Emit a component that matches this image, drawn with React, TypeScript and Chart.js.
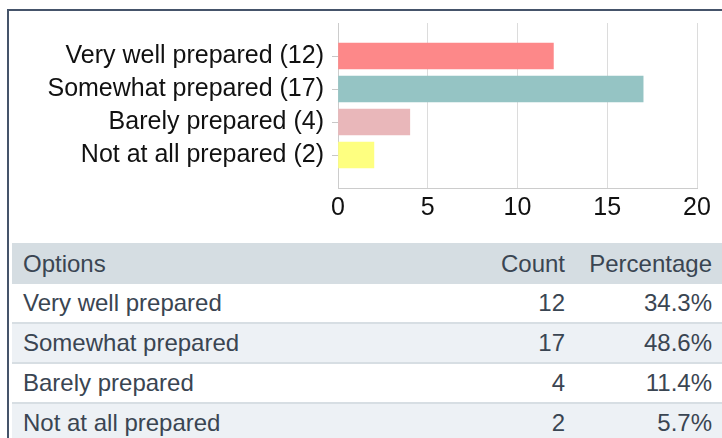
import React, { useEffect, useRef } from "react";
import { Chart, registerables } from "chart.js";

Chart.register(...registerables);

const categories = ["Very well prepared", "Somewhat prepared", "Barely prepared", "Not at all prepared"];
const counts = [12, 17, 4, 2];
const percentages = ["34.3%", "48.6%", "11.4%", "5.7%"];
const barColors = ["#fd8889", "#95c4c4", "#e9b7ba", "#feff80"];
const xTicks = [0, 5, 10, 15, 20];

const FONT = "'Liberation Sans', Arial, Helvetica, sans-serif";

export default function App() {
  const ref = useRef<HTMLCanvasElement | null>(null);

  useEffect(() => {
    if (!ref.current) return;
    const labels = categories.map((c, i) => `${c} (${counts[i]})`);
    const chart = new Chart(ref.current, {
      type: "bar",
      data: {
        datasets: [
          {
            data: counts.map((v, i) => ({ x: v, y: i })) as any,
            backgroundColor: barColors,
            borderWidth: 0,
            barThickness: 26,
          },
        ],
      },
      options: {
        indexAxis: "y",
        responsive: false,
        animation: false,
        events: [],
        layout: { padding: { top: 22, right: 25, bottom: 0, left: 0 } },
        plugins: { legend: { display: false }, tooltip: { enabled: false } },
        scales: {
          x: {
            type: "linear",
            offset: false,
            min: xTicks[0],
            max: xTicks[xTicks.length - 1],
            afterBuildTicks: (s: any) => {
              s.ticks = xTicks.map((v) => ({ value: v }));
            },
            afterFit: (s: any) => {
              s.height = 42;
            },
            grid: { color: "#dcdcdc", drawTicks: false, lineWidth: 1, offset: false },
            border: { display: true, color: "#cccccc" },
            ticks: { color: "#111111", padding: 5, autoSkip: false, font: { family: FONT, size: 25 } },
          },
          y: {
            type: "linear",
            reverse: true,
            offset: false,
            min: -1,
            max: categories.length,
            afterBuildTicks: (s: any) => {
              const t = [];
              for (let i = -1; i <= categories.length; i++) t.push({ value: i });
              s.ticks = t;
            },
            afterFit: (s: any) => {
              s.width = 338;
            },
            grid: {
              offset: false,
              drawOnChartArea: false,
              drawTicks: true,
              tickLength: 6,
              color: (ctx: any) => {
                const v = ctx.tick ? ctx.tick.value : -1;
                return v >= 0 && v < categories.length ? "#c8c8c8" : "rgba(0,0,0,0)";
              },
            },
            border: { display: true, color: "#cccccc" },
            ticks: {
              color: "#111111",
              padding: 8,
              autoSkip: false,
              font: { family: FONT, size: 25 },
              callback: (v: any) => (labels[v as number] !== undefined ? labels[v as number] : ""),
            },
          },
        },
      },
    });
    return () => chart.destroy();
  }, []);

  const textColor = "#3a4552";
  const cellFont: React.CSSProperties = { fontFamily: FONT, fontSize: 24, color: textColor };

  const rowStyle = (bg: string, h: number, border: boolean): React.CSSProperties => ({
    display: "flex",
    alignItems: "center",
    height: h,
    background: bg,
    borderBottom: border ? "2px solid #d7dee3" : "none",
    boxSizing: "content-box",
  });

  const col1: React.CSSProperties = { flex: "0 0 auto", width: 478, paddingLeft: 11, boxSizing: "border-box", whiteSpace: "nowrap" };
  const col2: React.CSSProperties = { width: 85, textAlign: "right", paddingRight: 10, boxSizing: "border-box", whiteSpace: "nowrap" };
  const col3: React.CSSProperties = { width: 147, textAlign: "right", paddingRight: 10, boxSizing: "border-box", whiteSpace: "nowrap" };

  return (
    <div style={{ position: "fixed", left: 0, top: 0, width: 722, height: 438, overflow: "hidden", background: "#ffffff" }}>
      <div
        style={{
          position: "absolute",
          left: 7,
          top: 9,
          width: 760,
          height: 480,
          borderLeft: "2px solid #45546a",
          borderTop: "2px solid #45546a",
        }}
      />
      <canvas ref={ref} width={722} height={230} style={{ position: "absolute", left: 0, top: 0, width: 722, height: 230 }} />
      <div style={{ position: "absolute", left: 12, top: 243, width: 710, ...cellFont }}>
        <div style={rowStyle("#d5dde2", 41, false)}>
          <div style={col1}>Options</div>
          <div style={col2}>Count</div>
          <div style={col3}>Percentage</div>
        </div>
        {categories.map((c, i) => (
          <div key={c} style={rowStyle(i % 2 === 0 ? "#ffffff" : "#edf1f5", 38, true)}>
            <div style={col1}>{c}</div>
            <div style={col2}>{counts[i]}</div>
            <div style={col3}>{percentages[i]}</div>
          </div>
        ))}
      </div>
    </div>
  );
}
